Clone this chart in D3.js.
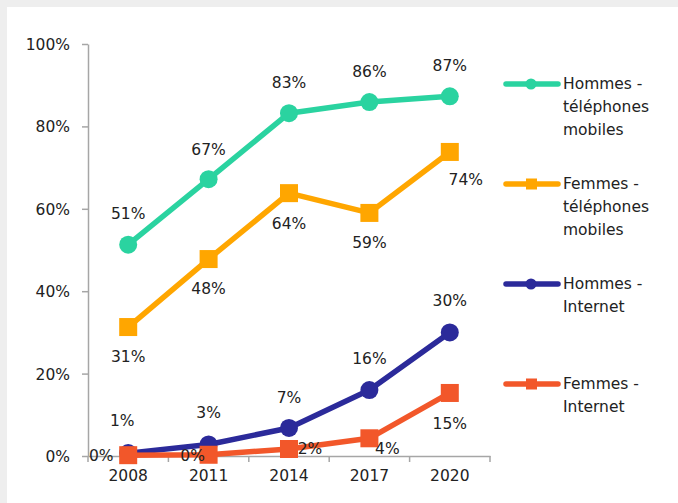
<!DOCTYPE html>
<html>
<head>
<meta charset="utf-8">
<script src="https://cdn.jsdelivr.net/npm/d3@7/dist/d3.min.js"></script>
<style>
html,body{margin:0;padding:0;background:#eeeeee;}
svg{display:block;}
text{font-family:"DejaVu Sans",sans-serif;fill:#222;}
</style>
</head>
<body>
<svg id="chart" width="678" height="503"></svg>
<script>
const years = ["2008","2011","2014","2017","2020"];
const yTicks = [0,20,40,60,80,100];
const hommesMobiles = [51.3,67.2,83.2,85.9,87.3];
const femmesMobiles = [31.3,47.8,63.8,59.0,73.8];
const hommesInternet = [0.7,2.8,6.8,16.0,30.0];
const femmesInternet = [0.2,0.3,1.7,4.3,15.3];
const seriesNames = [["Hommes -","téléphones","mobiles"],["Femmes -","téléphones","mobiles"],["Hommes -","Internet"],["Femmes -","Internet"]];

const colors = ["#2ad3a0","#ffa600","#2b2a9a","#f2572a"];
const shapes = ["circle","square","circle","square"];
// label offsets (dx, dy) per point
const labelOffsets = [
  [[0,-31],[0,-30],[0,-31],[0,-31],[0,-31]],
  [[0,30],[0,30],[0,30],[0,30],[16,28]],
  [[-6,-33],[0,-32],[0,-30],[0,-32],[0,-32]],
  [[-27,0],[-16,1],[21,0],[18,10],[0,31]]
];

const data = [hommesMobiles,femmesMobiles,hommesInternet,femmesInternet];
const svg = d3.select("#chart");
svg.append("rect").attr("x",7).attr("y",7).attr("width",671).attr("height",496).attr("fill","#fff");

const x = d3.scaleBand().domain(years).range([88,490]);
const y = d3.scaleLinear().domain([0,100]).range([456,44]);
const axisColor = "#a6a6a6";

// y axis
const yAxis = svg.append("g").attr("transform","translate(88,0)")
  .call(d3.axisLeft(y).tickValues(yTicks).tickFormat(d=>d+"%").tickSize(6).tickPadding(12).tickSizeOuter(0));
yAxis.select(".domain").attr("stroke",axisColor).attr("stroke-width",1.5);
yAxis.selectAll(".tick line").attr("stroke",axisColor).attr("stroke-width",1.5);
yAxis.selectAll("text").attr("font-size",15.5).attr("fill","#222").attr("dy","0.35em");

// x axis
const xAxis = svg.append("g").attr("transform","translate(0,456)")
  .call(d3.axisBottom(x).tickSize(0).tickPadding(14).tickSizeOuter(0));
xAxis.select(".domain").attr("stroke",axisColor).attr("stroke-width",1.5);
xAxis.selectAll("text").attr("font-size",15.5).attr("fill","#222");
const edges = years.map(d=>x(d)).concat([x.range()[1]]);
xAxis.selectAll(".edge").data(edges).enter().append("line")
  .attr("x1",d=>d).attr("x2",d=>d).attr("y1",0).attr("y2",6)
  .attr("stroke",axisColor).attr("stroke-width",1.5);

const cx = d=>x(d)+x.bandwidth()/2;
const line = d3.line().x((d,i)=>cx(years[i])).y(d=>y(d));

data.forEach((vals,s)=>{
  const g = svg.append("g");
  g.append("path").datum(vals).attr("d",line).attr("fill","none")
    .attr("stroke",colors[s]).attr("stroke-width",5.5).attr("stroke-linejoin","round");
  vals.forEach((v,i)=>{
    if(shapes[s]==="circle"){
      g.append("circle").attr("cx",cx(years[i])).attr("cy",y(v)).attr("r",9).attr("fill",colors[s]);
    } else {
      g.append("rect").attr("x",cx(years[i])-9).attr("y",y(v)-9).attr("width",18).attr("height",18).attr("fill",colors[s]);
    }
  });
});
// labels
data.forEach((vals,s)=>{
  vals.forEach((v,i)=>{
    const o = labelOffsets[s][i];
    svg.append("text").attr("x",cx(years[i])+o[0]).attr("y",y(v)+o[1])
      .attr("text-anchor","middle").attr("dy","0.35em").attr("font-size",15.5)
      .text(Math.round(v)+"%");
  });
});

// legend
seriesNames.forEach((lines,s)=>{
  const ly = 84 + s*100;
  const g = svg.append("g");
  g.append("line").attr("x1",506).attr("x2",558).attr("y1",ly).attr("y2",ly)
    .attr("stroke",colors[s]).attr("stroke-width",5.5).attr("stroke-linecap","round");
  if(shapes[s]==="circle") g.append("circle").attr("cx",531).attr("cy",ly).attr("r",5.5).attr("fill",colors[s]);
  else g.append("rect").attr("x",526).attr("y",ly-5.5).attr("width",11).attr("height",11).attr("fill",colors[s]);
  lines.forEach((t,k)=>{
    g.append("text").attr("x",563).attr("y",ly+k*23).attr("dy","0.35em").attr("font-size",15.5).text(t);
  });
});
</script>
</body>
</html>
